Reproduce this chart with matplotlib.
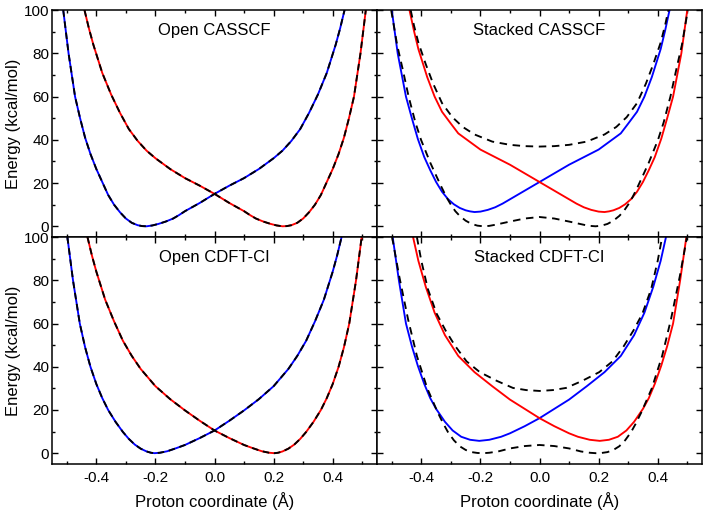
import matplotlib
matplotlib.use("Agg")
import matplotlib.pyplot as plt
from matplotlib.ticker import MultipleLocator, FormatStrFormatter

plt.rcParams['font.family'] = ['Liberation Sans', 'DejaVu Sans']
plt.rcParams['axes.unicode_minus'] = False

# ---- Open CASSCF: diabats (adiabats coincide, drawn dashed on top)
oc_blue_x = [-0.512, -0.494, -0.472, -0.455, -0.438, -0.42, -0.40, -0.38, -0.36, -0.34, -0.32, -0.30, -0.28,
             -0.26, -0.245, -0.23, -0.21, -0.19, -0.165, -0.14, -0.12, -0.10, -0.05, 0.0, 0.05, 0.10, 0.15,
             0.20, 0.23, 0.26, 0.29, 0.32, 0.35, 0.38, 0.41, 0.425, 0.44]
oc_blue_y = [100, 80, 60, 50, 41, 33.5, 26.5, 20.5, 14.5, 10, 6.5, 3.6, 1.6, 0.5, 0.1, 0, 0.4, 1.1, 2.2, 3.6,
             5.2, 7, 10.8, 15, 18.8, 22.3, 26.5, 31.5, 35, 39.5, 45, 52.5, 61, 71, 84, 91.5, 100]
oc_red_x = [-0.44, -0.425, -0.41, -0.38, -0.35, -0.32, -0.29, -0.26, -0.23, -0.20, -0.15, -0.10, -0.05, 0.0,
            0.05, 0.10, 0.12, 0.14, 0.165, 0.19, 0.21, 0.23, 0.245, 0.26, 0.28, 0.30, 0.32, 0.34, 0.36, 0.38,
            0.40, 0.42, 0.438, 0.455, 0.472, 0.494, 0.512]
oc_red_y = [100, 91.5, 84, 71, 61, 52.5, 45, 39.5, 35, 31.5, 26.5, 22.3, 18.8, 15, 10.8, 7, 5.2, 3.6, 2.2, 1.1,
            0.4, 0, 0.1, 0.5, 1.6, 3.6, 6.5, 10, 14.5, 20.5, 26.5, 33.5, 41, 50, 60, 80, 100]

# ---- Open CDFT-CI
od_blue_x = [-0.498, -0.479, -0.456, -0.438, -0.42, -0.40, -0.38, -0.36, -0.335, -0.31, -0.29, -0.27, -0.25,
             -0.23, -0.215, -0.203, -0.185, -0.16, -0.13, -0.10, -0.05, 0.0, 0.05, 0.10, 0.15, 0.20, 0.25,
             0.28, 0.31, 0.34, 0.37, 0.40, 0.415, 0.43]
od_blue_y = [100, 80, 60, 49, 40, 32, 25.5, 20, 14.5, 9.8, 6.6, 4, 2.1, 0.8, 0.2, 0, 0.2, 0.9, 2.3, 3.8, 7, 10.5,
             15, 19.8, 25, 31, 39, 45, 52, 61, 71, 84, 91.5, 100]
od_red_x = [-0.43, -0.415, -0.40, -0.37, -0.34, -0.31, -0.28, -0.25, -0.20, -0.15, -0.10, -0.05, 0.0, 0.05,
            0.10, 0.13, 0.16, 0.185, 0.203, 0.215, 0.23, 0.25, 0.27, 0.29, 0.31, 0.335, 0.36, 0.38, 0.40, 0.42,
            0.438, 0.456, 0.479, 0.498]
od_red_y = [100, 91.5, 84, 71, 61, 52, 45, 39, 31, 25, 19.8, 15, 10.5, 7, 3.8, 2.3, 0.9, 0.2, 0, 0.2, 0.8, 2.1,
            4, 6.6, 9.8, 14.5, 20, 25.5, 32, 40, 49, 60, 80, 100]

# ---- Stacked CASSCF
sc_blue_x = [-0.50, -0.48, -0.452, -0.432, -0.412, -0.39, -0.37, -0.35, -0.33, -0.31, -0.29, -0.27, -0.25,
             -0.235, -0.22, -0.20, -0.175, -0.15, -0.125, -0.10, -0.05, 0.0, 0.05, 0.10, 0.15, 0.20, 0.24,
             0.275, 0.30, 0.33, 0.355, 0.38, 0.41, 0.425, 0.44]
sc_blue_y = [100, 80, 60, 50, 40.5, 32, 26, 20.5, 16, 12.6, 10.2, 8.5, 7.4, 6.9, 6.6, 6.8, 7.6, 8.8, 10.5, 12.5,
             16.5, 20.5, 24.5, 28.5, 32, 35.5, 39.5, 43, 47.5, 53, 60, 69, 82, 90.5, 100]
sc_red_x = [-0.44, -0.425, -0.41, -0.38, -0.355, -0.33, -0.30, -0.275, -0.24, -0.20, -0.15, -0.10, -0.05, 0.0,
            0.05, 0.10, 0.125, 0.15, 0.175, 0.20, 0.22, 0.235, 0.25, 0.27, 0.29, 0.31, 0.33, 0.35, 0.37, 0.39,
            0.412, 0.432, 0.452, 0.48, 0.50]
sc_red_y = [100, 90.5, 82, 69, 60, 53, 47.5, 43, 39.5, 35.5, 32, 28.5, 24.5, 20.5, 16.5, 12.5, 10.5, 8.8, 7.6,
            6.8, 6.6, 6.9, 7.4, 8.5, 10.2, 12.6, 16, 20.5, 26, 32, 40.5, 50, 60, 80, 100]
sc_low_x = [-0.502, -0.482, -0.462, -0.443, -0.42, -0.401, -0.37, -0.35, -0.333, -0.315, -0.30, -0.285, -0.27,
            -0.25, -0.23, -0.21, -0.19, -0.17, -0.15, -0.10, -0.05, 0.0, 0.05, 0.10, 0.15, 0.17, 0.19, 0.21,
            0.23, 0.25, 0.27, 0.285, 0.30, 0.315, 0.333, 0.35, 0.37, 0.401, 0.42, 0.443, 0.462, 0.482, 0.502]
sc_low_y = [100, 84, 72, 60, 48, 40, 29.5, 23.5, 18.5, 13.5, 10, 7, 4.8, 2.6, 1.1, 0.3, 0, 0.2, 0.7, 2.2, 3.6,
            4.3, 3.6, 2.2, 0.7, 0.2, 0, 0.3, 1.1, 2.6, 4.8, 7, 10, 13.5, 18.5, 23.5, 29.5, 40, 48, 60, 72, 84,
            100]
sc_up_x = [-0.436, -0.425, -0.41, -0.385, -0.36, -0.33, -0.295, -0.26, -0.22, -0.16, -0.10, -0.05, 0.0, 0.05,
           0.10, 0.16, 0.22, 0.26, 0.295, 0.33, 0.36, 0.385, 0.41, 0.425, 0.436]
sc_up_y = [100, 93, 85, 75, 66, 57, 50.5, 46, 42.5, 39.2, 37.7, 37.1, 36.9, 37.1, 37.7, 39.2, 42.5, 46, 50.5, 57,
           66, 75, 85, 93, 100]

# ---- Stacked CDFT-CI
sd_blue_x = [-0.497, -0.476, -0.452, -0.432, -0.412, -0.39, -0.37, -0.35, -0.32, -0.294, -0.265, -0.235, -0.204,
             -0.17, -0.13, -0.10, -0.05, 0.0, 0.05, 0.10, 0.16, 0.22, 0.275, 0.32, 0.355, 0.385, 0.41, 0.428]
sd_blue_y = [100, 80, 60, 49.5, 40.5, 32, 25.5, 20.5, 14.5, 10.5, 7.6, 6.2, 5.7, 6.2, 7.6, 9.2, 12.5, 16.2,
             20.5, 24.8, 31, 37.5, 45, 54.6, 65, 77, 89, 100]
sd_red_x = [-0.428, -0.41, -0.385, -0.355, -0.32, -0.275, -0.22, -0.16, -0.10, -0.05, 0.0, 0.05, 0.10, 0.13,
            0.17, 0.204, 0.235, 0.265, 0.294, 0.32, 0.35, 0.37, 0.39, 0.412, 0.432, 0.452, 0.476, 0.497]
sd_red_y = [100, 89, 77, 65, 54.6, 45, 37.5, 31, 24.8, 20.5, 16.2, 12.5, 9.2, 7.6, 6.2, 5.7, 6.2, 7.6, 10.5,
            14.5, 20.5, 25.5, 32, 40.5, 49.5, 60, 80, 100]
sd_low_x = [-0.499, -0.475, -0.445, -0.415, -0.38, -0.345, -0.325, -0.31, -0.29, -0.27, -0.25, -0.23, -0.21,
            -0.19, -0.17, -0.14, -0.10, -0.05, 0.0, 0.05, 0.10, 0.14, 0.17, 0.19, 0.21, 0.23, 0.25, 0.27, 0.29,
            0.31, 0.325, 0.345, 0.38, 0.415, 0.445, 0.475, 0.499]
sd_low_y = [100, 82, 62, 45, 30, 19, 13.5, 9.8, 6, 3.2, 1.5, 0.5, 0.1, 0, 0.2, 0.8, 2.2, 3.3, 3.8, 3.3, 2.2, 0.8,
            0.2, 0, 0.1, 0.5, 1.5, 3.2, 6, 9.8, 13.5, 19, 30, 45, 62, 82, 100]
sd_up_x = [-0.415, -0.40, -0.378, -0.348, -0.318, -0.285, -0.247, -0.202, -0.145, -0.09, -0.045, 0.0, 0.045,
           0.09, 0.145, 0.202, 0.247, 0.285, 0.318, 0.348, 0.378, 0.40, 0.415]
sd_up_y = [100, 89, 76, 64.5, 56.8, 49.5, 42.5, 37.5, 33.5, 30.2, 29.2, 28.8, 29.2, 30.2, 33.5, 37.5, 42.5, 49.5,
           56.8, 64.5, 76, 89, 100]

titles = ['Open CASSCF', 'Stacked CASSCF', 'Open CDFT-CI', 'Stacked CDFT-CI']

fig, axes = plt.subplots(2, 2, figsize=(7.03, 5.11), dpi=100, sharex=True, sharey=True)
fig.subplots_adjust(left=0.074, right=0.9986, top=0.98, bottom=0.092, wspace=0, hspace=0)

dash_open = (0, (3.5, 2.5))
dash_stack = (0, (4, 3))
lw = 1.35

# open panels: colored diabats with black dashed adiabats on top
for ax, (bx, by, rx, ry) in zip([axes[0, 0], axes[1, 0]],
                                [(oc_blue_x, oc_blue_y, oc_red_x, oc_red_y),
                                 (od_blue_x, od_blue_y, od_red_x, od_red_y)]):
    ax.plot(bx, by, color='#0000ff', lw=lw)
    ax.plot(rx, ry, color='#ff0000', lw=lw)
    ax.plot(bx, by, color='black', lw=lw, linestyle=dash_open)
    ax.plot(rx, ry, color='black', lw=lw, linestyle=dash_open)

# stacked panels
for ax, (bx, by, rx, ry, lx, ly, ux, uy) in zip([axes[0, 1], axes[1, 1]],
        [(sc_blue_x, sc_blue_y, sc_red_x, sc_red_y, sc_low_x, sc_low_y, sc_up_x, sc_up_y),
         (sd_blue_x, sd_blue_y, sd_red_x, sd_red_y, sd_low_x, sd_low_y, sd_up_x, sd_up_y)]):
    ax.plot(bx, by, color='#0000ff', lw=lw)
    ax.plot(rx, ry, color='#ff0000', lw=lw)
    ax.plot(lx, ly, color='black', lw=lw, linestyle=dash_stack)
    ax.plot(ux, uy, color='black', lw=lw, linestyle=dash_stack)

for ax, t in zip(axes.flat, titles):
    ax.set_xlim(-0.55, 0.55)
    ax.set_ylim(-5, 100)
    ax.xaxis.set_major_locator(MultipleLocator(0.2))
    ax.xaxis.set_minor_locator(MultipleLocator(0.1))
    ax.yaxis.set_major_locator(MultipleLocator(20))
    ax.yaxis.set_minor_locator(MultipleLocator(10))
    ax.xaxis.set_major_formatter(FormatStrFormatter('%.1f'))
    ax.tick_params(which='both', direction='in', top=True, right=True, labelsize=11, width=1.0)
    ax.tick_params(which='major', length=4.5)
    ax.tick_params(which='minor', length=2.5)
    ax.tick_params(axis='x', which='major', pad=5)
    ax.tick_params(axis='y', which='major', pad=2)
    for s in ax.spines.values():
        s.set_linewidth(1.1)
    ax.text(0.5, 0.91, t, transform=ax.transAxes, ha='center', va='center', fontsize=12)

for ax in axes[:, 0]:
    ax.set_ylabel('Energy (kcal/mol)', fontsize=12)
    ax.yaxis.set_label_coords(-0.095, 0.5)
for ax in axes[1, :]:
    ax.set_xlabel('Proton coordinate (Å)', fontsize=12, labelpad=5)

fig.savefig('out.png', dpi=100)
